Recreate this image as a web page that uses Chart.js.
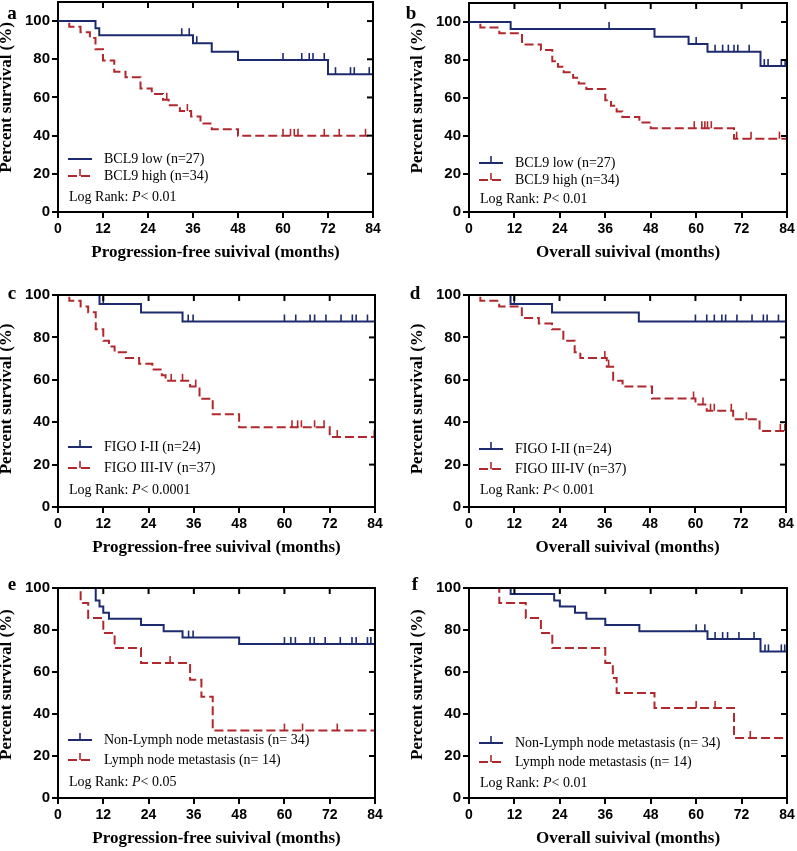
<!DOCTYPE html>
<html>
<head>
<meta charset="utf-8">
<script src="https://cdn.jsdelivr.net/npm/chart.js@4.4.1/dist/chart.umd.min.js"></script>
<style>
  body { margin: 0; background: #fff; width: 797px; height: 851px; position: relative; overflow: hidden; }
  .panel { position: absolute; }
</style>
</head>
<body>
<div class="panel" id="pa"><canvas id="ca"></canvas></div>
<div class="panel" id="pb"><canvas id="cb"></canvas></div>
<div class="panel" id="pc"><canvas id="cc"></canvas></div>
<div class="panel" id="pd"><canvas id="cd"></canvas></div>
<div class="panel" id="pe"><canvas id="ce"></canvas></div>
<div class="panel" id="pf"><canvas id="cf"></canvas></div>
<script>
// months ticks / percent ticks
const monthTicks = [0, 12, 24, 36, 48, 60, 72, 84];
const percentTicks = [0, 20, 40, 60, 80, 100];

// a - BCL9, progression-free
const aLowT = [0, 10, 11, 36, 41, 48, 72, 84];
const aLowS = [100, 96.3, 92.6, 88.4, 84.0, 79.6, 72.2, 55];
const aLowC = [33, 35, 37, 60, 65, 67, 68, 71, 74, 78, 79, 83];
const aHighT = [0, 3, 6, 8.5, 10, 12, 15, 18, 22, 25, 28, 29.5, 32.5, 35.5, 38, 41, 48, 84];
const aHighS = [100, 97.1, 94.1, 91.2, 85.3, 79.4, 73.5, 70.6, 64.7, 61.8, 58.8, 55.9, 52.9, 50.0, 46.3, 43.3, 39.9, 39.9];
const aHighC = [29, 34.5, 60, 62, 63, 64, 71, 75, 82];

// b - BCL9, overall
const bLowT = [0, 11, 49, 58, 63, 77, 84];
const bLowS = [100, 96.3, 92.3, 88.4, 84.4, 76.8, 60];
const bLowC = [37, 60, 65, 67, 68.5, 70, 71, 74, 78, 79, 82.5, 83.5];
const bHighT = [0, 3, 8, 14, 19, 22, 23.5, 25, 27.5, 29, 31, 36, 37.5, 39, 40.5, 45, 48, 70, 84];
const bHighS = [100, 97.1, 94.1, 88.2, 85.3, 79.4, 76.5, 73.5, 70.6, 67.6, 64.7, 58.8, 55.9, 52.9, 50.0, 47.1, 44.1, 38.6, 38.6];
const bHighC = [59.5, 61.5, 62.3, 63, 64, 70.7, 74.5, 82];

// c - FIGO, progression-free
const cLowT = [0, 11, 22, 33, 84];
const cLowS = [100, 95.8, 91.7, 87.5, 87.5];
const cLowC = [12, 34.5, 35.8, 60, 63, 66.8, 68, 71, 75, 78, 79, 82];
const cHighT = [0, 3, 6, 8, 10, 12, 13.5, 15, 18, 21.5, 25, 27.5, 28.5, 35, 37.5, 41, 48, 72, 84];
const cHighS = [100, 97.3, 94.6, 91.9, 83.8, 78.4, 75.7, 73.0, 70.3, 67.6, 64.9, 62.2, 59.5, 56.8, 51.1, 43.8, 37.6, 33.0, 33.0];
const cHighC = [30, 33, 36.5, 62, 63.5, 64.5, 68, 70.5, 74, 83.8];

// d - FIGO, overall
const dLowT = [0, 11, 22, 45, 84];
const dLowS = [100, 95.8, 91.7, 87.5, 87.5];
const dLowC = [12, 60, 63, 65, 67, 68, 71, 75, 78, 79, 82];
const dHighT = [0, 3, 8, 14, 18.5, 22, 25, 28, 29.5, 36.5, 38.2, 40.7, 48.5, 60, 63, 70, 77, 84];
const dHighS = [100, 97.3, 94.6, 89.2, 86.5, 83.8, 78.4, 73.0, 70.3, 66.2, 59.5, 56.8, 51.2, 48.3, 45.4, 41.4, 35.9, 35.9];
const dHighC = [36, 37, 59.5, 62, 64, 65, 69.5, 73.5, 82.5, 83.7];

// e - lymph node, progression-free
const eLowT = [0, 10, 11, 12, 13.5, 22, 28, 33, 48, 84];
const eLowS = [100, 94.1, 91.2, 88.2, 85.3, 82.4, 79.4, 76.4, 73.3, 73.3];
const eLowC = [34.6, 35.8, 60, 61.7, 62.9, 66.8, 67.9, 70.8, 74.8, 77.9, 79, 82, 82.9];
const eHighT = [0, 6, 8, 12, 15, 22, 35, 38, 41, 84];
const eHighS = [100, 92.9, 85.7, 78.6, 71.4, 64.3, 56.3, 48.2, 32.1, 32.1];
const eHighC = [29.7, 60, 64.8, 74];

// f - lymph node, overall
const fLowT = [0, 11, 22.5, 24, 28, 31, 36, 45, 63, 77, 84];
const fLowS = [100, 97.1, 94.1, 91.2, 88.2, 85.3, 82.4, 79.4, 75.7, 69.8, 69.8];
const fLowC = [60, 62.3, 65, 67, 68.3, 71.3, 75.3, 78.2, 79.1, 82.5, 83.4];
const fHighT = [0, 8, 15, 19, 22, 36, 38, 39, 49, 70, 84];
const fHighS = [100, 92.9, 85.7, 78.6, 71.4, 64.3, 57.1, 50.0, 42.9, 28.6, 28.6];
const fHighC = [60, 65, 74.3];

const bclNames = ['BCL9 low (n=27)', 'BCL9 high (n=34)'];
const figoNames = ['FIGO I-II (n=24)', 'FIGO III-IV (n=37)'];
const lymphNames = ['Non-Lymph node metastasis (n= 34)', 'Lymph node metastasis (n= 14)'];
const pfsTitle = 'Progression-free suivival (months)';
const osTitle = 'Overall suivival (months)';

const BLUE = '#1d2b6e';
const RED = '#b0282c';
const SERIF = '"Liberation Serif", "Times New Roman", serif';
const SANS = '"Liberation Sans", Arial, sans-serif';

// div box [left, top, width, height], chart area [left, top, right, bottom] in page px
const panels = [
  { id: 'a', div: [0, 0, 398, 282], area: [58, 2, 373, 212], yMax: 110, letter: [12, 14],
    low: [aLowT, aLowS, aLowC], high: [aHighT, aHighS, aHighC], names: bclNames, lowTick: false,
    p: '< 0.01', xTitle: pfsTitle, yTitleAt: 60, leg: [53, 36, 15] },
  { id: 'b', div: [399, 0, 398, 282], area: [469, 3, 787, 212], yMax: 110, letter: [12, 14],
    low: [bLowT, bLowS, bLowC], high: [bHighT, bHighS, bHighC], names: bclNames, lowTick: true,
    p: '< 0.01', xTitle: osTitle, yTitleAt: 60, leg: [49, 32, 13] },
  { id: 'c', div: [0, 282, 398, 285], area: [58, 295, 375, 507], yMax: 100, letter: [12, 12],
    low: [cLowT, cLowS, cLowC], high: [cHighT, cHighS, cHighC], names: figoNames, lowTick: true,
    p: '< 0.0001', xTitle: pfsTitle, yTitleAt: 51, leg: [60, 39, 17] },
  { id: 'd', div: [399, 282, 398, 285], area: [469, 295, 786, 507], yMax: 100, letter: [16, 12],
    low: [dLowT, dLowS, dLowC], high: [dHighT, dHighS, dHighC], names: figoNames, lowTick: true,
    p: '< 0.001', xTitle: osTitle, yTitleAt: 51, leg: [58, 38, 17] },
  { id: 'e', div: [0, 567, 398, 284], area: [58, 588, 375, 798], yMax: 100, letter: [12, 18],
    low: [eLowT, eLowS, eLowC], high: [eHighT, eHighS, eHighC], names: lymphNames, lowTick: true,
    p: '< 0.05', xTitle: pfsTitle, yTitleAt: 54, leg: [58, 38, 16] },
  { id: 'f', div: [399, 567, 398, 284], area: [469, 588, 787, 798], yMax: 100, letter: [16, 18],
    low: [fLowT, fLowS, fLowC], high: [fHighT, fHighS, fHighC], names: lymphNames, lowTick: true,
    p: '< 0.01', xTitle: osTitle, yTitleAt: 54, leg: [55, 36, 15] },
];

function stepAt(times, surv, t) {
  let v = surv[0];
  for (let i = 0; i < times.length; i++) {
    if (times[i] <= t) v = surv[i];
  }
  return v;
}

function drawSeg(ctx, x1, y1, x2, y2, color, width, dash) {
  ctx.save();
  ctx.strokeStyle = color;
  ctx.lineWidth = width;
  ctx.setLineDash(dash || []);
  ctx.beginPath();
  ctx.moveTo(x1, y1);
  ctx.lineTo(x2, y2);
  ctx.stroke();
  ctx.restore();
}

// frame, censor marks, legend, titles
const kmPlugin = {
  id: 'km',
  afterDatasetsDraw(chart, args, opts) {
    const ctx = chart.ctx;
    const { left, right, top, bottom } = chart.chartArea;
    const xs = chart.scales.x;
    const ys = chart.scales.y;

    // censor ticks
    opts.curves.forEach((c) => {
      c.censor.forEach((t) => {
        const px = xs.getPixelForValue(t);
        const py = ys.getPixelForValue(stepAt(c.times, c.surv, t));
        drawSeg(ctx, px, py, px, py - 7, c.color, 1.6);
      });
    });

    // top and right frame with inward ticks
    drawSeg(ctx, left - 1, top, right + 1, top, '#000', 2);
    drawSeg(ctx, right, top, right, bottom + 1, '#000', 2);
    monthTicks.forEach((m) => {
      const px = xs.getPixelForValue(m);
      drawSeg(ctx, px, top, px, top + 6, '#000', 2);
    });
    percentTicks.forEach((v) => {
      const py = ys.getPixelForValue(v);
      drawSeg(ctx, right, py, right - 6, py, '#000', 2);
    });

    // legend
    ctx.save();
    ctx.textBaseline = 'middle';
    ctx.fillStyle = '#000';
    ctx.font = '14px ' + SERIF;
    opts.curves.forEach((c, i) => {
      const ly = bottom - opts.leg[i];
      drawSeg(ctx, left + 10, ly, left + 34, ly, c.color, 2, c.dash);
      if (c.legTick) drawSeg(ctx, left + 22, ly, left + 22, ly - 7, c.color, 1.6);
      ctx.fillText(c.name, left + 46, ly);
    });
    let tx = left + 11;
    const ty = bottom - opts.leg[2];
    ctx.fillText('Log Rank: ', tx, ty);
    tx += ctx.measureText('Log Rank: ').width;
    ctx.font = 'italic 14px ' + SERIF;
    ctx.fillText('P', tx, ty);
    tx += ctx.measureText('P').width;
    ctx.font = '14px ' + SERIF;
    ctx.fillText(opts.p, tx, ty);

    // axis titles
    ctx.font = 'bold 17px ' + SERIF;
    ctx.textAlign = 'center';
    ctx.fillText(opts.xTitle, (left + right) / 2, bottom + 41);
    ctx.translate(left - 51, ys.getPixelForValue(opts.yTitleAt));
    ctx.rotate(-Math.PI / 2);
    ctx.fillText('Percent survival (%)', 0, 0);
    ctx.restore();

    // panel letter
    ctx.save();
    ctx.font = 'bold 19px ' + SERIF;
    ctx.fillStyle = '#000';
    ctx.textAlign = 'center';
    ctx.textBaseline = 'middle';
    ctx.fillText(opts.letter, opts.letterPos[0], opts.letterPos[1]);
    ctx.restore();
  },
};

function curve(src, color, dash, name, legTick) {
  return { times: src[0], surv: src[1], censor: src[2], color, dash, name, legTick };
}

panels.forEach((p) => {
  const box = document.getElementById('p' + p.id);
  box.style.left = p.div[0] + 'px';
  box.style.top = p.div[1] + 'px';
  box.style.width = p.div[2] + 'px';
  box.style.height = p.div[3] + 'px';

  const yW = p.area[0] - p.div[0];
  const padT = p.area[1] - p.div[1];
  const padR = p.div[0] + p.div[2] - p.area[2];
  const xH = p.div[1] + p.div[3] - p.area[3];

  const curves = [
    curve(p.low, BLUE, [], p.names[0], p.lowTick),
    curve(p.high, RED, [9, 4], p.names[1], true),
  ];

  new Chart(document.getElementById('c' + p.id), {
    type: 'line',
    data: {
      datasets: curves.map((c) => ({
        data: c.times.map((t, i) => ({ x: t, y: c.surv[i] })),
        stepped: true,
        borderColor: c.color,
        borderWidth: 2,
        borderDash: c.dash,
        pointRadius: 0,
        fill: false,
      })),
    },
    options: {
      responsive: true,
      maintainAspectRatio: false,
      animation: false,
      layout: { padding: { top: padT, right: padR, left: 0, bottom: 0 } },
      plugins: {
        legend: { display: false },
        tooltip: { enabled: false },
        km: {
          curves,
          leg: p.leg,
          p: p.p,
          xTitle: p.xTitle,
          yTitleAt: p.yTitleAt,
          letter: p.id,
          letterPos: p.letter,
        },
      },
      scales: {
        x: {
          type: 'linear',
          min: 0,
          max: 84,
          afterBuildTicks: (s) => { s.ticks = monthTicks.map((v) => ({ value: v })); },
          ticks: { color: '#000', padding: 3, maxRotation: 0, autoSkip: false,
            font: { family: SANS, weight: 'bold', size: 14 } },
          grid: { drawOnChartArea: false, drawTicks: true, tickLength: 6, color: '#000', lineWidth: 2 },
          border: { color: '#000', width: 2 },
          afterFit: (s) => { s.height = xH; s.paddingLeft = 0; s.paddingRight = 0; },
        },
        y: {
          type: 'linear',
          min: 0,
          max: p.yMax,
          afterBuildTicks: (s) => { s.ticks = percentTicks.map((v) => ({ value: v })); },
          ticks: { color: '#000', padding: 2,
            font: { family: SANS, weight: 'bold', size: 15 } },
          grid: { drawOnChartArea: false, drawTicks: true, tickLength: 6, color: '#000', lineWidth: 2 },
          border: { color: '#000', width: 2 },
          afterFit: (s) => { s.width = yW; s.paddingTop = 0; s.paddingBottom = 0; },
        },
      },
    },
    plugins: [kmPlugin],
  });
});
</script>
</body>
</html>
